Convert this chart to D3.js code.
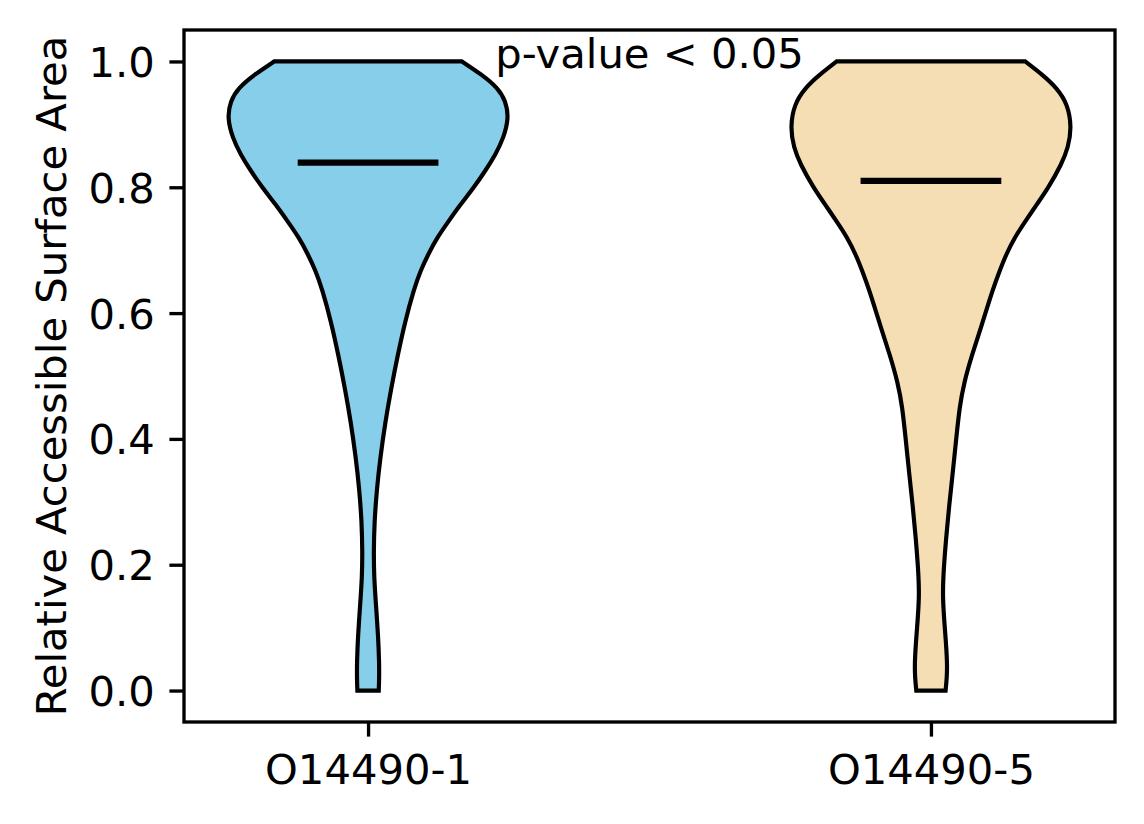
<!DOCTYPE html>
<html>
<head>
<meta charset="utf-8">
<script src="https://cdn.jsdelivr.net/npm/d3@7"></script>
<style>
  body { margin: 0; background: #fff; }
  svg { display: block; font-family: "DejaVu Sans", sans-serif; }
</style>
</head>
<body>
<svg id="chart" width="1144" height="824"></svg>
<script>
// ---- data ----
const categories = ["O14490-1", "O14490-5"];
const positions = [1, 2];
const colors = ["#87CEEB", "#F5DEB3"];
const medians = [0.839, 0.810];
const yTicks = [0.0, 0.2, 0.4, 0.6, 0.8, 1.0];
const annotation = "p-value < 0.05";
const yLabel = "Relative Accessible Surface Area";

// KDE outline: value levels and normalised density (max = 1) for each group
const levels1 = [1.0, 0.979, 0.958, 0.937, 0.910, 0.879, 0.852, 0.826, 0.799, 0.773, 0.746, 0.720, 0.693, 0.667, 0.638, 0.585, 0.531, 0.479, 0.426, 0.372, 0.320, 0.267, 0.220, 0.180, 0.140, 0.086, 0.045, 0.020, 0.0];
const density1 = [0.667, 0.809, 0.922, 0.979, 1.0, 0.964, 0.906, 0.833, 0.750, 0.658, 0.572, 0.491, 0.426, 0.372, 0.326, 0.261, 0.209, 0.163, 0.122, 0.088, 0.062, 0.045, 0.040, 0.043, 0.055, 0.072, 0.079, 0.079, 0.076];
const levels2 = [1.0, 0.979, 0.958, 0.932, 0.895, 0.863, 0.837, 0.799, 0.773, 0.746, 0.720, 0.693, 0.667, 0.638, 0.585, 0.531, 0.489, 0.452, 0.399, 0.346, 0.293, 0.243, 0.200, 0.150, 0.086, 0.044, 0.020, 0.0];
const density2 = [0.670, 0.792, 0.894, 0.972, 1.0, 0.975, 0.929, 0.834, 0.753, 0.671, 0.594, 0.534, 0.488, 0.440, 0.367, 0.288, 0.235, 0.204, 0.179, 0.155, 0.129, 0.108, 0.093, 0.080, 0.104, 0.116, 0.113, 0.104];

// ---- layout ----
const plot = { left: 184, right: 1115, top: 30, bottom: 722 };
const fs = 41.7;          // 10pt at 300dpi
const lw = 3.33;          // 0.8pt
const tickLen = 14.6, tickPad = 14.6;
const halfWidth = 0.25;   // matplotlib widths=0.5

const svg = d3.select("#chart");

const x = d3.scaleLinear().domain([0.673, 2.327]).range([plot.left, plot.right]);
const y = d3.scaleLinear().domain([-0.05, 1.05]).range([plot.bottom, plot.top]);

const groups = [
  { levels: levels1, density: density1 },
  { levels: levels2, density: density2 }
];

const gV = svg.append("g");
groups.forEach((g, i) => {
  const pts = g.levels.map((v, k) => ({ v, w: g.density[k] }));
  const pos = positions[i];
  const area = d3.area()
    .curve(d3.curveBasis)
    .y(d => y(d.v))
    .x0(d => x(pos - d.w * halfWidth))
    .x1(d => x(pos + d.w * halfWidth));
  gV.append("path")
    .attr("d", area(pts))
    .attr("fill", colors[i])
    .attr("stroke", "#000")
    .attr("stroke-width", 4.17)
    .attr("stroke-linejoin", "miter");
  gV.append("line")
    .attr("x1", x(pos - 0.125)).attr("x2", x(pos + 0.125))
    .attr("y1", y(medians[i])).attr("y2", y(medians[i]))
    .attr("stroke", "#000")
    .attr("stroke-width", 6.25);
});

// ---- axes ----
const yAxis = d3.axisLeft(y).tickValues(yTicks).tickFormat(d3.format(".1f"))
  .tickSize(tickLen).tickPadding(tickPad);
const gy = svg.append("g").attr("transform", `translate(${plot.left},0)`).call(yAxis);
gy.select(".domain").remove();
gy.selectAll(".tick line").attr("stroke", "#000").attr("stroke-width", lw);
gy.selectAll(".tick text").attr("font-size", fs).attr("fill", "#000")
  .attr("font-family", "DejaVu Sans").attr("dy", "0.36em");

const xAxis = d3.axisBottom(x).tickValues(positions).tickFormat((d, i) => categories[i])
  .tickSize(tickLen).tickPadding(tickPad);
const gx = svg.append("g").attr("transform", `translate(0,${plot.bottom})`).call(xAxis);
gx.select(".domain").remove();
gx.selectAll(".tick line").attr("stroke", "#000").attr("stroke-width", lw);
gx.selectAll(".tick text").attr("font-size", fs).attr("fill", "#000")
  .attr("font-family", "DejaVu Sans").attr("dy", "0.79em");

// frame
svg.append("rect")
  .attr("x", plot.left).attr("y", plot.top)
  .attr("width", plot.right - plot.left).attr("height", plot.bottom - plot.top)
  .attr("fill", "none").attr("stroke", "#000").attr("stroke-width", lw);

// y label
svg.append("text")
  .attr("transform", `translate(66,${(plot.top + plot.bottom) / 2}) rotate(-90)`)
  .attr("text-anchor", "middle")
  .attr("font-size", fs)
  .attr("fill", "#000")
  .text(yLabel);

// annotation
svg.append("text")
  .attr("x", x(1.5)).attr("y", y(0.99))
  .attr("text-anchor", "middle")
  .attr("font-size", fs)
  .attr("fill", "#000")
  .text(annotation);
</script>
</body>
</html>
